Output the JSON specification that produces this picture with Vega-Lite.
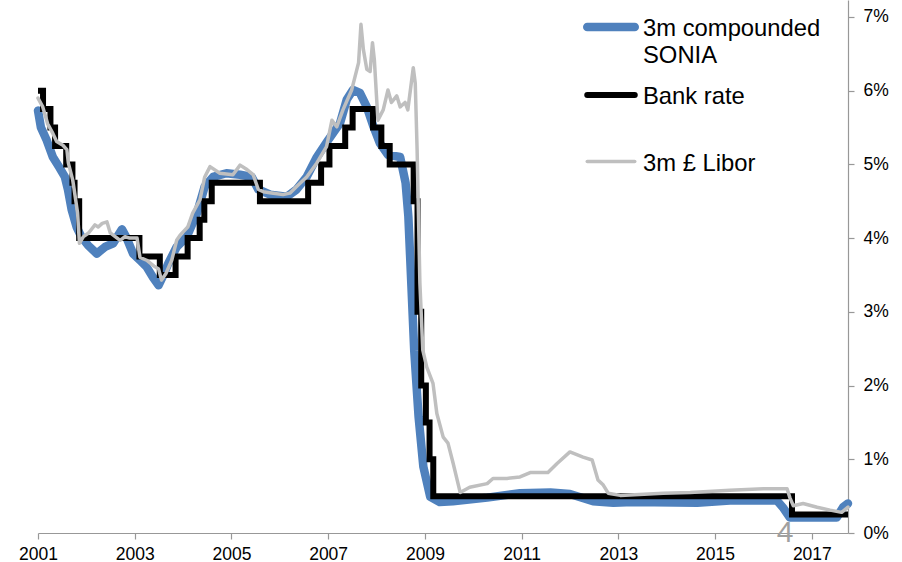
{
  "$schema": "https://vega.github.io/schema/vega-lite/v6.json",
  "width": 810,
  "height": 533,
  "autosize": {"type": "none"},
  "padding": {"left": 38, "top": 0, "right": 54, "bottom": 29},
  "background": "white",
  "config": {"view": {"stroke": null}, "font": "Liberation Sans"},
  "datasets": {
    "rates": [
      {"date": "2001-01-01", "series": "3m compounded SONIA", "rate": 5.73},
      {"date": "2001-01-23", "series": "3m compounded SONIA", "rate": 5.50},
      {"date": "2001-03-07", "series": "3m compounded SONIA", "rate": 5.33},
      {"date": "2001-04-23", "series": "3m compounded SONIA", "rate": 5.10},
      {"date": "2001-06-14", "series": "3m compounded SONIA", "rate": 4.95},
      {"date": "2001-07-23", "series": "3m compounded SONIA", "rate": 4.83},
      {"date": "2001-08-15", "series": "3m compounded SONIA", "rate": 4.66},
      {"date": "2001-09-13", "series": "3m compounded SONIA", "rate": 4.38},
      {"date": "2001-10-20", "series": "3m compounded SONIA", "rate": 4.15},
      {"date": "2001-11-24", "series": "3m compounded SONIA", "rate": 4.02},
      {"date": "2002-01-15", "series": "3m compounded SONIA", "rate": 3.90},
      {"date": "2002-03-21", "series": "3m compounded SONIA", "rate": 3.79},
      {"date": "2002-05-22", "series": "3m compounded SONIA", "rate": 3.88},
      {"date": "2002-07-23", "series": "3m compounded SONIA", "rate": 3.93},
      {"date": "2002-09-27", "series": "3m compounded SONIA", "rate": 4.12},
      {"date": "2002-11-02", "series": "3m compounded SONIA", "rate": 4.00},
      {"date": "2002-12-20", "series": "3m compounded SONIA", "rate": 3.79},
      {"date": "2003-02-10", "series": "3m compounded SONIA", "rate": 3.70},
      {"date": "2003-04-01", "series": "3m compounded SONIA", "rate": 3.61},
      {"date": "2003-05-19", "series": "3m compounded SONIA", "rate": 3.47},
      {"date": "2003-07-01", "series": "3m compounded SONIA", "rate": 3.36},
      {"date": "2003-08-07", "series": "3m compounded SONIA", "rate": 3.50},
      {"date": "2003-09-13", "series": "3m compounded SONIA", "rate": 3.66},
      {"date": "2003-11-14", "series": "3m compounded SONIA", "rate": 3.88},
      {"date": "2004-01-30", "series": "3m compounded SONIA", "rate": 4.02},
      {"date": "2004-04-16", "series": "3m compounded SONIA", "rate": 4.34},
      {"date": "2004-06-13", "series": "3m compounded SONIA", "rate": 4.70},
      {"date": "2004-08-15", "series": "3m compounded SONIA", "rate": 4.83},
      {"date": "2004-11-24", "series": "3m compounded SONIA", "rate": 4.88},
      {"date": "2005-03-07", "series": "3m compounded SONIA", "rate": 4.86},
      {"date": "2005-06-03", "series": "3m compounded SONIA", "rate": 4.83},
      {"date": "2005-07-23", "series": "3m compounded SONIA", "rate": 4.66},
      {"date": "2005-10-20", "series": "3m compounded SONIA", "rate": 4.59},
      {"date": "2006-02-21", "series": "3m compounded SONIA", "rate": 4.56},
      {"date": "2006-05-08", "series": "3m compounded SONIA", "rate": 4.66},
      {"date": "2006-07-23", "series": "3m compounded SONIA", "rate": 4.83},
      {"date": "2006-10-08", "series": "3m compounded SONIA", "rate": 5.10},
      {"date": "2007-01-01", "series": "3m compounded SONIA", "rate": 5.33},
      {"date": "2007-04-01", "series": "3m compounded SONIA", "rate": 5.56},
      {"date": "2007-05-22", "series": "3m compounded SONIA", "rate": 5.88},
      {"date": "2007-07-08", "series": "3m compounded SONIA", "rate": 6.01},
      {"date": "2007-08-29", "series": "3m compounded SONIA", "rate": 5.97},
      {"date": "2007-10-20", "series": "3m compounded SONIA", "rate": 5.78},
      {"date": "2007-12-10", "series": "3m compounded SONIA", "rate": 5.51},
      {"date": "2008-01-26", "series": "3m compounded SONIA", "rate": 5.29},
      {"date": "2008-03-28", "series": "3m compounded SONIA", "rate": 5.13},
      {"date": "2008-06-28", "series": "3m compounded SONIA", "rate": 5.10},
      {"date": "2008-08-08", "series": "3m compounded SONIA", "rate": 4.75},
      {"date": "2008-08-29", "series": "3m compounded SONIA", "rate": 4.29},
      {"date": "2008-09-20", "series": "3m compounded SONIA", "rate": 3.39},
      {"date": "2008-10-12", "series": "3m compounded SONIA", "rate": 2.48},
      {"date": "2008-11-14", "series": "3m compounded SONIA", "rate": 1.58},
      {"date": "2008-12-20", "series": "3m compounded SONIA", "rate": 0.90},
      {"date": "2009-02-10", "series": "3m compounded SONIA", "rate": 0.49},
      {"date": "2009-04-22", "series": "3m compounded SONIA", "rate": 0.42},
      {"date": "2009-07-31", "series": "3m compounded SONIA", "rate": 0.43},
      {"date": "2010-04-16", "series": "3m compounded SONIA", "rate": 0.48},
      {"date": "2010-12-20", "series": "3m compounded SONIA", "rate": 0.54},
      {"date": "2011-08-07", "series": "3m compounded SONIA", "rate": 0.55},
      {"date": "2012-01-01", "series": "3m compounded SONIA", "rate": 0.53},
      {"date": "2012-06-24", "series": "3m compounded SONIA", "rate": 0.43},
      {"date": "2012-11-24", "series": "3m compounded SONIA", "rate": 0.41},
      {"date": "2013-04-20", "series": "3m compounded SONIA", "rate": 0.42},
      {"date": "2014-08-19", "series": "3m compounded SONIA", "rate": 0.41},
      {"date": "2015-04-23", "series": "3m compounded SONIA", "rate": 0.44},
      {"date": "2016-04-12", "series": "3m compounded SONIA", "rate": 0.44},
      {"date": "2016-05-26", "series": "3m compounded SONIA", "rate": 0.35},
      {"date": "2016-07-19", "series": "3m compounded SONIA", "rate": 0.21},
      {"date": "2017-07-08", "series": "3m compounded SONIA", "rate": 0.21},
      {"date": "2017-08-25", "series": "3m compounded SONIA", "rate": 0.35},
      {"date": "2017-10-01", "series": "3m compounded SONIA", "rate": 0.40},

      {"date": "2001-01-01", "series": "Bank rate", "rate": 6.00},
      {"date": "2001-02-08", "series": "Bank rate", "rate": 5.75},
      {"date": "2001-04-05", "series": "Bank rate", "rate": 5.50},
      {"date": "2001-05-10", "series": "Bank rate", "rate": 5.25},
      {"date": "2001-08-02", "series": "Bank rate", "rate": 5.00},
      {"date": "2001-09-18", "series": "Bank rate", "rate": 4.75},
      {"date": "2001-10-04", "series": "Bank rate", "rate": 4.50},
      {"date": "2001-11-08", "series": "Bank rate", "rate": 4.00},
      {"date": "2003-02-06", "series": "Bank rate", "rate": 3.75},
      {"date": "2003-07-10", "series": "Bank rate", "rate": 3.50},
      {"date": "2003-11-06", "series": "Bank rate", "rate": 3.75},
      {"date": "2004-02-05", "series": "Bank rate", "rate": 4.00},
      {"date": "2004-05-06", "series": "Bank rate", "rate": 4.25},
      {"date": "2004-06-10", "series": "Bank rate", "rate": 4.50},
      {"date": "2004-08-05", "series": "Bank rate", "rate": 4.75},
      {"date": "2005-08-04", "series": "Bank rate", "rate": 4.50},
      {"date": "2006-08-03", "series": "Bank rate", "rate": 4.75},
      {"date": "2006-11-09", "series": "Bank rate", "rate": 5.00},
      {"date": "2007-01-11", "series": "Bank rate", "rate": 5.25},
      {"date": "2007-05-10", "series": "Bank rate", "rate": 5.50},
      {"date": "2007-07-05", "series": "Bank rate", "rate": 5.75},
      {"date": "2007-12-06", "series": "Bank rate", "rate": 5.50},
      {"date": "2008-02-07", "series": "Bank rate", "rate": 5.25},
      {"date": "2008-04-10", "series": "Bank rate", "rate": 5.00},
      {"date": "2008-10-08", "series": "Bank rate", "rate": 4.50},
      {"date": "2008-11-06", "series": "Bank rate", "rate": 3.00},
      {"date": "2008-12-04", "series": "Bank rate", "rate": 2.00},
      {"date": "2009-01-08", "series": "Bank rate", "rate": 1.50},
      {"date": "2009-02-05", "series": "Bank rate", "rate": 1.00},
      {"date": "2009-03-05", "series": "Bank rate", "rate": 0.50},
      {"date": "2016-08-04", "series": "Bank rate", "rate": 0.25},
      {"date": "2017-10-01", "series": "Bank rate", "rate": 0.25},

      {"date": "2001-01-01", "series": "3m £ Libor", "rate": 5.90},
      {"date": "2001-02-06", "series": "3m £ Libor", "rate": 5.78},
      {"date": "2001-03-15", "series": "3m £ Libor", "rate": 5.55},
      {"date": "2001-04-23", "series": "3m £ Libor", "rate": 5.42},
      {"date": "2001-05-22", "series": "3m £ Libor", "rate": 5.31},
      {"date": "2001-07-08", "series": "3m £ Libor", "rate": 5.26},
      {"date": "2001-08-07", "series": "3m £ Libor", "rate": 5.20},
      {"date": "2001-08-18", "series": "3m £ Libor", "rate": 5.02},
      {"date": "2001-09-20", "series": "3m £ Libor", "rate": 4.79},
      {"date": "2001-10-01", "series": "3m £ Libor", "rate": 4.66},
      {"date": "2001-10-27", "series": "3m £ Libor", "rate": 4.34},
      {"date": "2001-11-10", "series": "3m £ Libor", "rate": 3.93},
      {"date": "2001-12-10", "series": "3m £ Libor", "rate": 4.02},
      {"date": "2002-01-18", "series": "3m £ Libor", "rate": 4.07},
      {"date": "2002-03-07", "series": "3m £ Libor", "rate": 4.18},
      {"date": "2002-04-01", "series": "3m £ Libor", "rate": 4.15},
      {"date": "2002-05-01", "series": "3m £ Libor", "rate": 4.20},
      {"date": "2002-06-06", "series": "3m £ Libor", "rate": 4.22},
      {"date": "2002-07-01", "series": "3m £ Libor", "rate": 4.07},
      {"date": "2002-08-07", "series": "3m £ Libor", "rate": 4.02},
      {"date": "2002-09-13", "series": "3m £ Libor", "rate": 3.97},
      {"date": "2002-10-20", "series": "3m £ Libor", "rate": 4.02},
      {"date": "2002-11-24", "series": "3m £ Libor", "rate": 4.00},
      {"date": "2003-01-19", "series": "3m £ Libor", "rate": 4.00},
      {"date": "2003-02-10", "series": "3m £ Libor", "rate": 3.74},
      {"date": "2003-04-01", "series": "3m £ Libor", "rate": 3.70},
      {"date": "2003-05-27", "series": "3m £ Libor", "rate": 3.62},
      {"date": "2003-07-01", "series": "3m £ Libor", "rate": 3.58},
      {"date": "2003-07-23", "series": "3m £ Libor", "rate": 3.43},
      {"date": "2003-08-25", "series": "3m £ Libor", "rate": 3.52},
      {"date": "2003-10-08", "series": "3m £ Libor", "rate": 3.70},
      {"date": "2003-11-14", "series": "3m £ Libor", "rate": 3.97},
      {"date": "2003-12-10", "series": "3m £ Libor", "rate": 4.04},
      {"date": "2004-02-06", "series": "3m £ Libor", "rate": 4.15},
      {"date": "2004-03-14", "series": "3m £ Libor", "rate": 4.34},
      {"date": "2004-05-08", "series": "3m £ Libor", "rate": 4.52},
      {"date": "2004-06-13", "series": "3m £ Libor", "rate": 4.83},
      {"date": "2004-07-23", "series": "3m £ Libor", "rate": 4.97},
      {"date": "2004-10-05", "series": "3m £ Libor", "rate": 4.88},
      {"date": "2005-01-12", "series": "3m £ Libor", "rate": 4.86},
      {"date": "2005-03-07", "series": "3m £ Libor", "rate": 4.99},
      {"date": "2005-04-28", "series": "3m £ Libor", "rate": 4.93},
      {"date": "2005-06-14", "series": "3m £ Libor", "rate": 4.86},
      {"date": "2005-07-23", "series": "3m £ Libor", "rate": 4.66},
      {"date": "2005-08-29", "series": "3m £ Libor", "rate": 4.63},
      {"date": "2005-11-13", "series": "3m £ Libor", "rate": 4.61},
      {"date": "2006-01-26", "series": "3m £ Libor", "rate": 4.59},
      {"date": "2006-03-18", "series": "3m £ Libor", "rate": 4.61},
      {"date": "2006-05-08", "series": "3m £ Libor", "rate": 4.70},
      {"date": "2006-07-23", "series": "3m £ Libor", "rate": 4.83},
      {"date": "2006-10-08", "series": "3m £ Libor", "rate": 5.02},
      {"date": "2006-12-20", "series": "3m £ Libor", "rate": 5.24},
      {"date": "2007-01-30", "series": "3m £ Libor", "rate": 5.60},
      {"date": "2007-03-07", "series": "3m £ Libor", "rate": 5.51},
      {"date": "2007-04-23", "series": "3m £ Libor", "rate": 5.74},
      {"date": "2007-06-28", "series": "3m £ Libor", "rate": 6.01},
      {"date": "2007-08-19", "series": "3m £ Libor", "rate": 6.38},
      {"date": "2007-09-06", "series": "3m £ Libor", "rate": 6.90},
      {"date": "2007-09-24", "series": "3m £ Libor", "rate": 6.56},
      {"date": "2007-10-20", "series": "3m £ Libor", "rate": 6.29},
      {"date": "2007-11-14", "series": "3m £ Libor", "rate": 6.26},
      {"date": "2007-12-02", "series": "3m £ Libor", "rate": 6.65},
      {"date": "2007-12-16", "series": "3m £ Libor", "rate": 6.42},
      {"date": "2008-01-12", "series": "3m £ Libor", "rate": 5.60},
      {"date": "2008-02-21", "series": "3m £ Libor", "rate": 5.74},
      {"date": "2008-03-28", "series": "3m £ Libor", "rate": 6.01},
      {"date": "2008-04-23", "series": "3m £ Libor", "rate": 5.84},
      {"date": "2008-06-02", "series": "3m £ Libor", "rate": 5.93},
      {"date": "2008-06-28", "series": "3m £ Libor", "rate": 5.78},
      {"date": "2008-08-04", "series": "3m £ Libor", "rate": 5.84},
      {"date": "2008-08-25", "series": "3m £ Libor", "rate": 5.74},
      {"date": "2008-10-05", "series": "3m £ Libor", "rate": 6.31},
      {"date": "2008-10-20", "series": "3m £ Libor", "rate": 6.10},
      {"date": "2008-11-03", "series": "3m £ Libor", "rate": 5.20},
      {"date": "2008-11-24", "series": "3m £ Libor", "rate": 3.39},
      {"date": "2008-12-16", "series": "3m £ Libor", "rate": 2.48},
      {"date": "2009-01-15", "series": "3m £ Libor", "rate": 2.25},
      {"date": "2009-03-03", "series": "3m £ Libor", "rate": 2.03},
      {"date": "2009-04-01", "series": "3m £ Libor", "rate": 1.62},
      {"date": "2009-05-19", "series": "3m £ Libor", "rate": 1.30},
      {"date": "2009-06-24", "series": "3m £ Libor", "rate": 1.22},
      {"date": "2009-08-03", "series": "3m £ Libor", "rate": 0.94},
      {"date": "2009-09-24", "series": "3m £ Libor", "rate": 0.55},
      {"date": "2009-12-05", "series": "3m £ Libor", "rate": 0.62},
      {"date": "2010-04-16", "series": "3m £ Libor", "rate": 0.67},
      {"date": "2010-05-30", "series": "3m £ Libor", "rate": 0.74},
      {"date": "2010-09-13", "series": "3m £ Libor", "rate": 0.74},
      {"date": "2010-12-20", "series": "3m £ Libor", "rate": 0.76},
      {"date": "2011-03-07", "series": "3m £ Libor", "rate": 0.82},
      {"date": "2011-07-19", "series": "3m £ Libor", "rate": 0.82},
      {"date": "2011-09-24", "series": "3m £ Libor", "rate": 0.94},
      {"date": "2012-01-01", "series": "3m £ Libor", "rate": 1.10},
      {"date": "2012-04-09", "series": "3m £ Libor", "rate": 1.03},
      {"date": "2012-06-17", "series": "3m £ Libor", "rate": 0.99},
      {"date": "2012-07-31", "series": "3m £ Libor", "rate": 0.72},
      {"date": "2012-09-09", "series": "3m £ Libor", "rate": 0.65},
      {"date": "2012-10-16", "series": "3m £ Libor", "rate": 0.54},
      {"date": "2013-01-15", "series": "3m £ Libor", "rate": 0.51},
      {"date": "2013-12-05", "series": "3m £ Libor", "rate": 0.54},
      {"date": "2014-06-28", "series": "3m £ Libor", "rate": 0.55},
      {"date": "2015-04-23", "series": "3m £ Libor", "rate": 0.58},
      {"date": "2016-01-01", "series": "3m £ Libor", "rate": 0.60},
      {"date": "2016-06-28", "series": "3m £ Libor", "rate": 0.60},
      {"date": "2016-07-19", "series": "3m £ Libor", "rate": 0.48},
      {"date": "2016-08-14", "series": "3m £ Libor", "rate": 0.37},
      {"date": "2016-10-27", "series": "3m £ Libor", "rate": 0.40},
      {"date": "2017-02-10", "series": "3m £ Libor", "rate": 0.35},
      {"date": "2017-05-19", "series": "3m £ Libor", "rate": 0.31},
      {"date": "2017-08-14", "series": "3m £ Libor", "rate": 0.28},
      {"date": "2017-10-01", "series": "3m £ Libor", "rate": 0.35}
    ]
  },
  "layer": [
    {
      "data": {"name": "rates"},
      "encoding": {
        "x": {
          "field": "date",
          "type": "temporal",
          "scale": {
            "type": "utc",
            "domain": [
              {"year": 2001, "month": 1, "date": 1, "utc": true},
              {"year": 2017, "month": 10, "date": 1, "utc": true}
            ],
            "nice": false
          },
          "axis": {
            "title": null,
            "grid": false,
            "values": [
              {"year": 2001, "utc": true}, {"year": 2003, "utc": true}, {"year": 2005, "utc": true},
              {"year": 2007, "utc": true}, {"year": 2009, "utc": true}, {"year": 2011, "utc": true},
              {"year": 2013, "utc": true}, {"year": 2015, "utc": true}, {"year": 2017, "utc": true}
            ],
            "format": "%Y",
            "formatType": "utc",
            "domainColor": "#989898",
            "domainWidth": 1.2,
            "tickColor": "#989898",
            "tickWidth": 1.2,
            "tickSize": 6,
            "labelFont": "Liberation Sans",
            "labelFontSize": 17.5,
            "labelColor": "#000000",
            "labelPadding": 6,
            "labelFlush": false,
            "labelOverlap": false
          }
        },
        "y": {
          "field": "rate",
          "type": "quantitative",
          "scale": {"domain": [0, 7.23], "nice": false, "zero": true},
          "axis": {
            "orient": "right",
            "title": null,
            "grid": false,
            "values": [0, 1, 2, 3, 4, 5, 6, 7],
            "labelExpr": "datum.value + '%'",
            "domainColor": "#989898",
            "domainWidth": 1.2,
            "tickColor": "#989898",
            "tickWidth": 1.2,
            "tickSize": 6,
            "labelFont": "Liberation Sans",
            "labelFontSize": 17.5,
            "labelColor": "#000000",
            "labelPadding": 9
          }
        },
        "color": {
          "field": "series",
          "type": "nominal",
          "scale": {
            "domain": ["3m compounded SONIA", "Bank rate", "3m £ Libor"],
            "range": ["#4F81BD", "#000000", "#BFBFBF"]
          },
          "legend": {
            "title": null,
            "orient": "none",
            "legendX": 545,
            "legendY": -1,
            "padding": 0,
            "symbolType": "stroke",
            "symbolSize": 2256,
            "labelFont": "Liberation Sans",
            "labelFontSize": 23.8,
            "labelColor": "#000000",
            "labelOffset": 4,
            "labelLimit": 400,
            "labelBaseline": "top",
            "rowPadding": -3,
            "labelExpr": "datum.label == '3m compounded SONIA' ? ['3m compounded', 'SONIA'] : datum.label == 'Bank rate' ? ['Bank rate', ''] : datum.label",
            "encode": {
              "labels": {"update": {"dy": {"value": -10}, "lineHeight": {"value": 27}}},
              "symbols": {"update": {"strokeCap": {"value": "round"}}}
            }
          }
        },
        "strokeWidth": {
          "field": "series",
          "type": "nominal",
          "scale": {
            "domain": ["3m compounded SONIA", "Bank rate", "3m £ Libor"],
            "range": [8.5, 3.5, 3.8]
          },
          "legend": {
            "title": null,
            "orient": "none",
            "legendX": 545,
            "legendY": -1,
            "padding": 0,
            "symbolType": "stroke",
            "symbolSize": 2256,
            "labelFont": "Liberation Sans",
            "labelFontSize": 23.8,
            "labelColor": "#000000",
            "labelOffset": 4,
            "labelLimit": 400,
            "labelBaseline": "top",
            "rowPadding": -3,
            "labelExpr": "datum.label == '3m compounded SONIA' ? ['3m compounded', 'SONIA'] : datum.label == 'Bank rate' ? ['Bank rate', ''] : datum.label",
            "encode": {
              "labels": {"update": {"dy": {"value": -10}, "lineHeight": {"value": 27}}},
              "symbols": {"update": {"strokeCap": {"value": "round"}}}
            }
          }
        }
      },
      "layer": [
        {
          "transform": [{"filter": "datum.series == '3m compounded SONIA'"}],
          "mark": {"type": "line", "strokeCap": "round", "strokeJoin": "round"}
        },
        {
          "transform": [{"filter": "datum.series == 'Bank rate'"}],
          "mark": {"type": "line", "interpolate": "step-after", "strokeJoin": "miter"}
        },
        {
          "transform": [{"filter": "datum.series == '3m £ Libor'"}],
          "mark": {"type": "line", "strokeJoin": "round", "strokeCap": "round"}
        }
      ]
    },
    {
      "data": {"values": [{"label": "4"}]},
      "mark": {"type": "text", "fontSize": 30, "font": "Liberation Sans", "fill": "#A0A0A0", "align": "center", "baseline": "alphabetic", "dy": 9},
      "encoding": {
        "x": {"datum": 1465776000000, "type": "temporal"},
        "y": {"datum": 0, "type": "quantitative"},
        "text": {"field": "label"}
      }
    }
  ]
}
